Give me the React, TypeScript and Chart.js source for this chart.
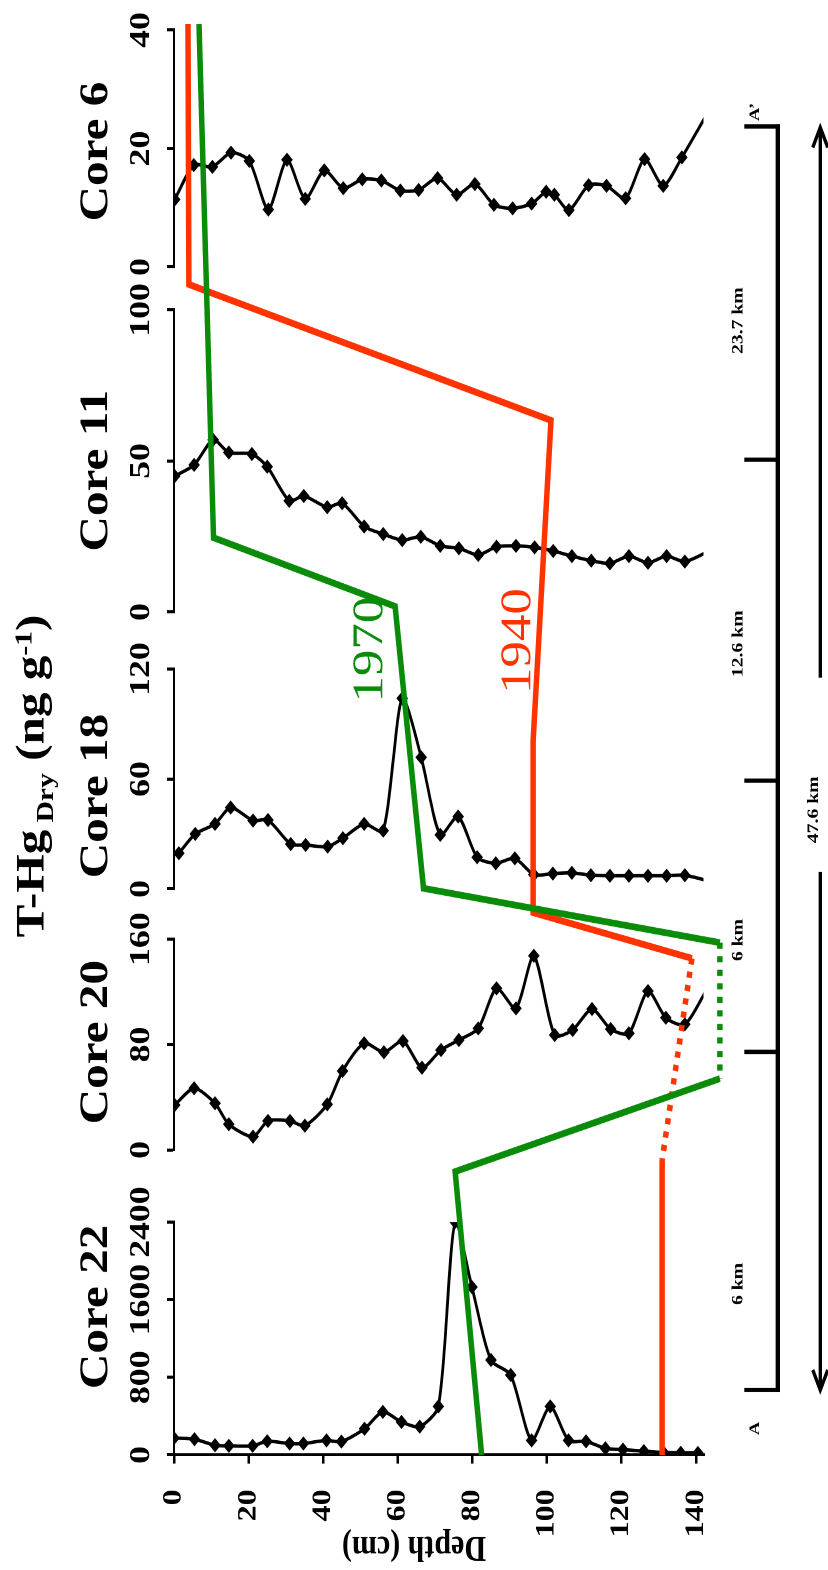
import React, { useEffect, useRef } from "react";
import { Chart, registerables } from "chart.js";

Chart.register(...registerables);

const SERIF = '"Liberation Serif", "Times New Roman", Times, serif';
const GREEN = "#0a8c0a";
const RED = "#ff3300";

// ---------------- data ----------------
const depthTicks = [0, 20, 40, 60, 80, 100, 120, 140];

const core22Depth = [0, 5.5, 11, 14.7, 21.1, 25, 31, 34.7, 40.9, 44.9, 51.1, 56, 61, 65.9, 70.9, 75.4, 79.9, 85, 90.3, 95.9, 100.9, 105.8, 110.5, 115.7, 120.4, 126, 131.3, 135.9, 140.5];
const core22HgT = [174, 162, 100, 94, 94, 141, 118, 118, 150, 138, 270, 444, 340, 292, 500, 2400, 1730, 978, 824, 150, 500, 150, 140, 68, 55, 40, 25, 22, 20];
const core22Ticks = [0, 800, 1600, 2400];

const core20Depth = [0.2, 5.4, 11, 14.7, 21.2, 25.2, 31.1, 35.1, 41.1, 45.2, 51, 56.3, 61.4, 66.5, 71.6, 76.4, 81.6, 86.5, 91.7, 96.5, 102.1, 106.9, 112.1, 117.1, 122, 127.1, 131.9, 137, 143.5];
const core20HgT = [34.1, 46.8, 35.4, 19.5, 10.1, 22.0, 22.0, 18.4, 34.6, 59.9, 80.9, 74.1, 82.6, 62.4, 75.8, 83.4, 92.2, 122.6, 107.4, 147.3, 87.2, 91.0, 106.9, 91.7, 88.5, 120.5, 100.3, 95.3, 125];
const core20Ticks = [0, 80, 160];

const core18Depth = [1.3, 5.7, 11, 15.2, 21.2, 25.2, 31.3, 35.3, 41.2, 45.3, 51, 56.1, 61.2, 66.3, 71.4, 76.2, 81.3, 86.3, 91.4, 96.5, 101.6, 106.7, 111.8, 116.9, 122, 127.1, 132.1, 137, 144];
const core18HgT = [19.5, 30.0, 35.5, 44.4, 37.3, 37.6, 24.5, 24.0, 23.1, 27.7, 35.5, 31.8, 104, 71.8, 29.5, 39.5, 17.3, 14.0, 16.7, 7.8, 8.4, 8.8, 7.5, 7.2, 7.2, 7.2, 7.2, 7.5, 4];
const core18Ticks = [0, 60, 120];

const core11Depth = [0.2, 5.4, 10.5, 14.7, 20.9, 25, 30.9, 34.8, 41.1, 45.1, 51, 56.1, 61.2, 66.2, 71.4, 76.4, 81.6, 86.5, 91.7, 96.7, 101.7, 106.7, 111.9, 116.9, 122, 127.1, 132.1, 137, 144];
const core11HgT = [45.0, 48.7, 57.0, 52.8, 52.3, 48.1, 36.8, 38.4, 34.7, 36.0, 28.3, 25.8, 23.8, 24.9, 21.9, 21.1, 18.9, 21.6, 21.9, 21.4, 20.2, 18.5, 17.0, 16.1, 18.5, 16.3, 18.5, 16.7, 20.5];
const core11Ticks = [0, 50, 100];

const core6Depth = [0.2, 5.3, 10.3, 15.3, 20.2, 25.3, 30.3, 35.2, 40.3, 45.4, 50.5, 55.6, 60.7, 65.6, 70.7, 75.8, 80.7, 85.8, 90.8, 95.9, 99.8, 102, 105.9, 111.2, 116, 121.1, 126.2, 131.2, 136.2, 144];
const core6HgT = [11.4, 17.2, 16.9, 19.3, 17.9, 9.7, 18.1, 11.5, 16.3, 13.3, 14.8, 14.6, 12.9, 13.0, 15.0, 12.2, 14.0, 10.5, 9.9, 10.7, 12.7, 12.2, 9.6, 13.8, 13.7, 11.6, 18.2, 13.7, 18.5, 27];
const core6Ticks = [0, 20, 40];

const coreTitles = ["Core 22", "Core 20", "Core 18", "Core 11", "Core 6"];

// Dated horizons: position along the section (% of the plot width) and depth (cm)
const horizon1970Pos = [100, 64.1, 59.3, 39.6, 35.8, 26.3, 19.8, 0];
const horizon1970Depth = [6.7, 10.6, 59.3, 66.9, 146.4, 146.4, 75.4, 82.5];
const horizon1970DottedSegment = 4;
const horizon1940Pos = [100, 81.8, 72.3, 49.9, 37.9, 34.7, 20.6, 0];
const horizon1940Depth = [3.75, 4.0, 101.1, 96.3, 96.3, 138.9, 130.9, 130.9];
const horizon1940DottedSegment = 5;

const distanceLabels = ["23.7 km", "12.6 km", "6 km", "6 km"];
const totalDistanceLabel = "47.6 km";

// ---------------- layout (canvas is drawn un-rotated, then turned) ----------------
const W = 1276;
const H = 828;
const SX = 1570 / W;
const AREA_LEFT = 93.5;
const AREA_TOP = 174;
const AREA_RIGHT = 1256.5;
const AREA_BOTTOM = 703.5;
const panelWidths = [189.3, 171.4, 178.8, 245.5, 192.6];
const gapWidths = [58.6, 40.7, 46.3, 34.9, 4.9];
const titleCenters = [213.8, 428.9, 629, 893.5, 1152.8];
const barEnds = [146.3, 1173.2];
const barTicks = [421.1, 641.5, 902.4];
const distanceLabelCenters = [1015.4, 752.8, 512, 232.5];

const decorPlugin = {
  id: "decor",
  afterDraw(chart: any) {
    const ctx = chart.ctx;
    ctx.save();
    ctx.fillStyle = "#000";
    ctx.textBaseline = "alphabetic";

    // main title  T-Hg Dry (ng g-1)
    const parts: any[] = [
      { t: "T-Hg", size: 40, dy: 0 },
      { t: " Dry", size: 24, dy: 9.5 },
      { t: " (ng g", size: 40, dy: 0 },
      { t: "-1", size: 24, dy: -12 },
      { t: ")", size: 40, dy: 0 },
    ];
    let total = 0;
    parts.forEach((p) => {
      ctx.font = `bold ${p.size}px ${SERIF}`;
      p.w = ctx.measureText(p.t).width;
      total += p.w;
    });
    let x = 645.3 - total / 2;
    ctx.textAlign = "left";
    parts.forEach((p) => {
      ctx.font = `bold ${p.size}px ${SERIF}`;
      ctx.fillText(p.t, x, 43.5 + p.dy);
      x += p.w;
    });

    // core titles
    ctx.font = `bold 40px ${SERIF}`;
    ctx.textAlign = "center";
    coreTitles.forEach((t, i) => ctx.fillText(t, titleCenters[i], 107));

    // depth axis title
    ctx.save();
    ctx.translate(26.8, 414);
    ctx.rotate(-Math.PI / 2);
    ctx.font = `bold 30px ${SERIF}`;
    ctx.textAlign = "center";
    ctx.fillText("Depth (cm)", 0, 0);
    ctx.restore();

    // horizon labels
    ctx.font = `43px ${SERIF}`;
    ctx.textAlign = "center";
    ctx.fillStyle = GREEN;
    ctx.fillText("1970", 748, 382);
    ctx.fillStyle = RED;
    ctx.fillText("1940", 755, 530);

    // distance bar
    ctx.fillStyle = "#000";
    ctx.strokeStyle = "#000";
    ctx.lineCap = "butt";
    ctx.lineWidth = 4.3;
    ctx.beginPath();
    ctx.moveTo(barEnds[0] - 1.75, 777.8);
    ctx.lineTo(barEnds[1] + 1.75, 777.8);
    ctx.stroke();
    ctx.lineWidth = 3.5;
    [...barEnds, ...barTicks].forEach((bx) => {
      ctx.beginPath();
      ctx.moveTo(bx, 744.3);
      ctx.lineTo(bx, 779.9);
      ctx.stroke();
    });
    ctx.font = `bold 16px ${SERIF}`;
    ctx.textAlign = "center";
    distanceLabels.forEach((t, i) => ctx.fillText(t, distanceLabelCenters[i], 742.7));
    ctx.font = `bold 15px ${SERIF}`;
    ctx.fillText("A\u2019", 1185, 759);
    ctx.fillText("A", 115, 759);

    // total distance double arrow
    const ay = 820.3;
    const left = 146.3;
    const right = 1172.4;
    ctx.lineWidth = 3.3;
    ctx.beginPath();
    ctx.moveTo(left, ay);
    ctx.lineTo(567.5, ay);
    ctx.moveTo(725.2, ay);
    ctx.lineTo(right, ay);
    ctx.stroke();
    ctx.lineJoin = "miter";
    ctx.beginPath();
    ctx.moveTo(right - 16.3, ay - 7.5);
    ctx.lineTo(right, ay);
    ctx.lineTo(right - 16.3, ay + 7.5);
    ctx.moveTo(left + 16.3, ay - 7.5);
    ctx.lineTo(left, ay);
    ctx.lineTo(left + 16.3, ay + 7.5);
    ctx.stroke();
    ctx.font = `bold 16px ${SERIF}`;
    ctx.fillText(totalDistanceLabel, 617.9, 818);

    ctx.restore();
  },
};

function panelAxis(ticks: number[], width: number, weight: number) {
  return {
    type: "linear",
    position: "top",
    stack: "panels",
    stackWeight: width,
    weight,
    min: ticks[0],
    max: ticks[ticks.length - 1],
    afterBuildTicks: (s: any) => {
      s.ticks = ticks.map((v) => ({ value: v }));
    },
    afterFit: (s: any) => {
      s.height = AREA_TOP;
      s.paddingLeft = 0;
      s.paddingRight = 0;
    },
    ticks: {
      autoSkip: false,
      minRotation: 0,
      maxRotation: 0,
      color: "#000",
      padding: 8,
      font: { family: SERIF, size: 29, weight: "bold" },
      callback: (v: any) => String(v),
    },
    grid: { drawOnChartArea: false, drawTicks: true, tickLength: 7, tickWidth: 2.5, lineWidth: 2.5, color: "#000" },
    border: { display: true, color: "#000", width: 2 },
  };
}

function spacerAxis(width: number, weight: number) {
  return {
    type: "linear",
    position: "top",
    stack: "panels",
    stackWeight: width,
    weight,
    display: false,
    min: 0,
    max: 1,
    afterFit: (s: any) => {
      s.height = AREA_TOP;
      s.paddingLeft = 0;
      s.paddingRight = 0;
    },
  };
}

export default function App() {
  const ref = useRef<HTMLCanvasElement>(null);

  useEffect(() => {
    const canvas = ref.current;
    if (!canvas) return;

    const panels = [
      { id: "c22", depth: core22Depth, val: core22HgT, ticks: core22Ticks },
      { id: "c20", depth: core20Depth, val: core20HgT, ticks: core20Ticks },
      { id: "c18", depth: core18Depth, val: core18HgT, ticks: core18Ticks },
      { id: "c11", depth: core11Depth, val: core11HgT, ticks: core11Ticks },
      { id: "c6", depth: core6Depth, val: core6HgT, ticks: core6Ticks },
    ];

    const scales: any = {
      y: {
        type: "linear",
        position: "left",
        reverse: true,
        min: 0,
        max: 142,
        afterBuildTicks: (s: any) => {
          s.ticks = depthTicks.map((v) => ({ value: v }));
        },
        afterFit: (s: any) => {
          s.width = AREA_LEFT;
          s.paddingTop = 0;
          s.paddingBottom = 0;
        },
        ticks: {
          autoSkip: false,
          color: "#000",
          padding: 21,
          font: { family: SERIF, size: 26, weight: "bold" },
          callback: (v: any) => String(v),
        },
        grid: { drawOnChartArea: false, drawTicks: true, tickLength: 7, tickWidth: 2.5, lineWidth: 2.5, color: "#000" },
        border: { display: true, color: "#000", width: 2.4 },
      },
      x: { type: "linear", position: "bottom", display: false, min: 0, max: 100 },
    };
    let w = 20;
    panels.forEach((p, i) => {
      scales[p.id] = panelAxis(p.ticks, panelWidths[i], w--);
      scales["gap" + i] = spacerAxis(gapWidths[i], w--);
    });

    const horizon = (pos: number[], depth: number[], dotted: number, color: string) => ({
      data: pos.map((x, i) => ({ x, y: depth[i] })),
      xAxisID: "x",
      yAxisID: "y",
      showLine: true,
      borderColor: color,
      backgroundColor: color,
      borderWidth: 5.5,
      pointRadius: 0,
      tension: 0,
      clip: false,
      borderJoinStyle: "miter",
      borderCapStyle: "butt",
      segment: {
        borderDash: (ctx: any) => (ctx.p0DataIndex === dotted ? [5, 6] : undefined),
      },
    });

    const datasets: any[] = [
      horizon(horizon1970Pos, horizon1970Depth, horizon1970DottedSegment, GREEN),
      horizon(horizon1940Pos, horizon1940Depth, horizon1940DottedSegment, RED),
      ...panels.map((p) => ({
        data: p.depth.map((d, i) => ({ x: p.val[i], y: d })),
        xAxisID: p.id,
        yAxisID: "y",
        showLine: true,
        borderColor: "#000",
        borderWidth: 2.8,
        tension: 0.25,
        pointStyle: "rectRot",
        pointRadius: 5.8,
        pointBackgroundColor: "#000",
        pointBorderWidth: 0,
        fill: false,
      })),
    ];

    const chart = new Chart(canvas, {
      type: "scatter",
      data: { datasets },
      options: {
        responsive: false,
        animation: false,
        devicePixelRatio: 2,
        events: [],
        layout: { padding: { left: 0, top: 0, right: W - AREA_RIGHT, bottom: H - AREA_BOTTOM } },
        plugins: { legend: { display: false }, tooltip: { enabled: false } },
        scales,
      } as any,
      plugins: [decorPlugin],
    } as any);

    return () => chart.destroy();
  }, []);

  return (
    <div style={{ position: "absolute", left: 0, top: 0, width: 828, height: 1570, overflow: "hidden", background: "#fff" }}>
      <canvas
        ref={ref}
        width={W}
        height={H}
        style={{
          position: "absolute",
          left: 0,
          top: 0,
          width: W,
          height: H,
          transformOrigin: "0 0",
          transform: `translate(0px, 1570px) rotate(-90deg) scale(${SX}, 1)`,
        }}
      />
    </div>
  );
}
